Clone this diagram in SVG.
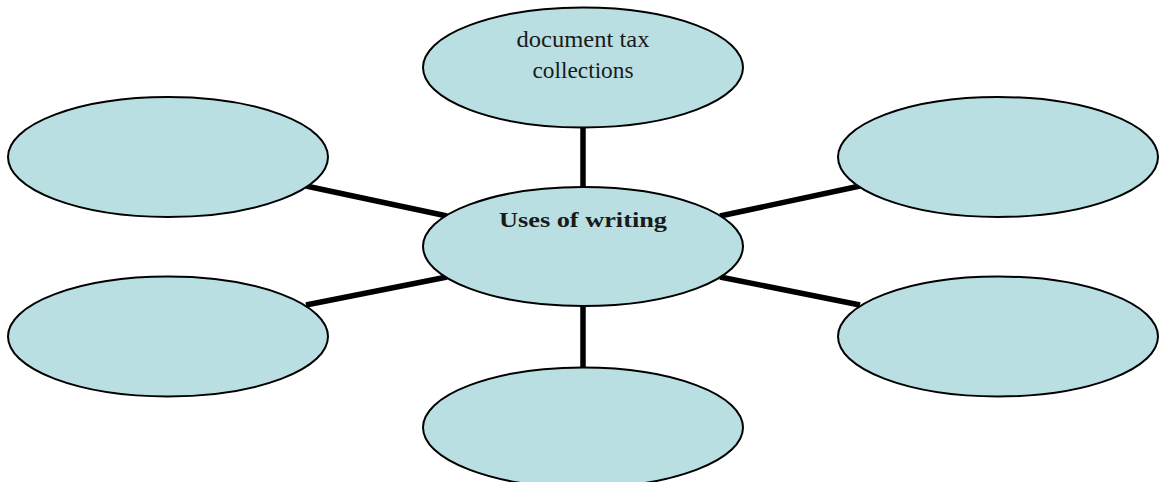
<svg xmlns="http://www.w3.org/2000/svg" width="1159" height="482" viewBox="0 0 1159 482">
<style>
.node ellipse{fill:#b9dfe2;stroke:#000;stroke-width:2}
.conn line{stroke:#000;stroke-width:5.5}
text{font-family:"Liberation Serif","Times New Roman",serif;fill:#1a1a1a;text-anchor:middle}
</style>
<rect width="1159" height="482" fill="#fff"/>
<g id="connectors" class="conn">
<line x1="583" y1="127" x2="583" y2="188"/>
<line x1="583" y1="305" x2="583" y2="368"/>
<line x1="306" y1="186" x2="447" y2="216"/>
<line x1="306" y1="305" x2="447" y2="277"/>
<line x1="720" y1="216" x2="860" y2="186"/>
<line x1="720" y1="277" x2="860" y2="305"/>
</g>
<g id="node-top" class="node">
<ellipse cx="583" cy="67.5" rx="160" ry="60"/>
<text x="583" y="47" font-size="23" textLength="133" lengthAdjust="spacingAndGlyphs">document tax</text>
<text x="583" y="78" font-size="23" textLength="101" lengthAdjust="spacingAndGlyphs">collections</text>
</g>
<g id="node-left-top" class="node"><ellipse cx="168" cy="157" rx="160" ry="60"/></g>
<g id="node-right-top" class="node"><ellipse cx="998" cy="157" rx="160" ry="60"/></g>
<g id="node-center" class="node">
<ellipse cx="583" cy="246.5" rx="160" ry="59.5"/>
<text x="583" y="227" font-size="22" font-weight="bold" textLength="168" lengthAdjust="spacingAndGlyphs">Uses of writing</text>
</g>
<g id="node-left-bottom" class="node"><ellipse cx="168" cy="336.5" rx="160" ry="60"/></g>
<g id="node-right-bottom" class="node"><ellipse cx="998" cy="336.5" rx="160" ry="60"/></g>
<g id="node-bottom" class="node"><ellipse cx="583" cy="427.5" rx="160" ry="60"/></g>
</svg>
